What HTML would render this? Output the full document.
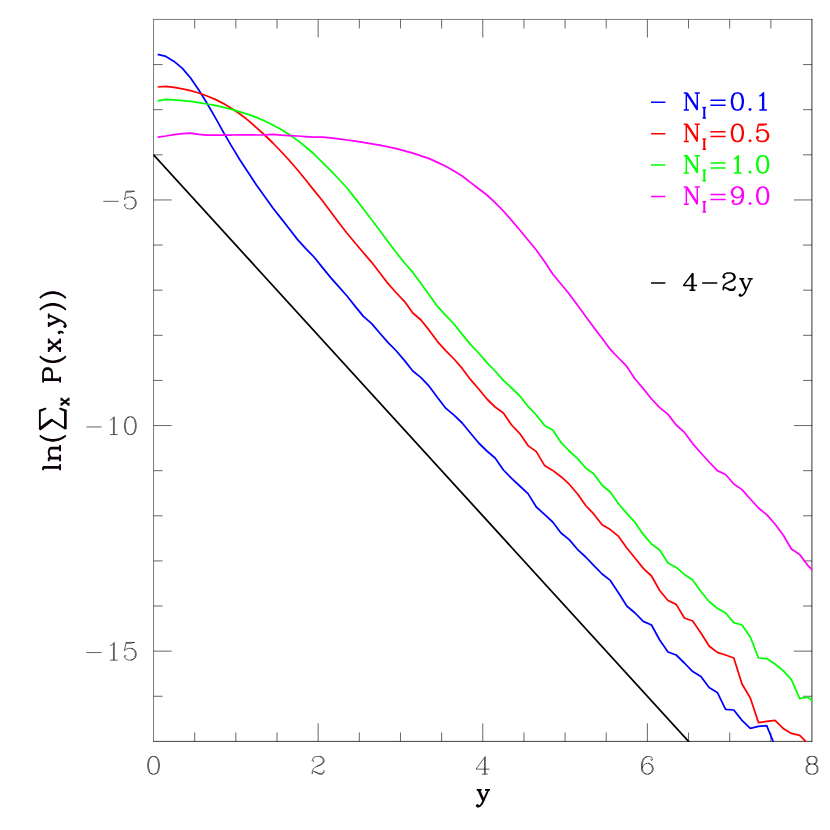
<!DOCTYPE html>
<html><head><meta charset="utf-8"><title>plot</title><style>html,body{margin:0;padding:0;background:#fff;font-family:"Liberation Sans",sans-serif}svg{display:block}</style></head><body>
<svg width="830" height="830" viewBox="0 0 830 830">
<rect width="830" height="830" fill="#fff"/>
<defs><clipPath id="c"><rect x="153.25" y="19.15" width="659.15" height="722.65"/></clipPath></defs>
<path d="M153.55 19.20V741.80 M153.30 19.45H812.40" fill="none" stroke="#000" stroke-width="0.52"/>
<path d="M811.92 19.20V741.75" fill="none" stroke="#000" stroke-width="0.8"/>
<path d="M153.30 741.40H812.35" fill="none" stroke="#000" stroke-width="0.74"/>
<path d="M194.70 19.45v9.00 M194.70 741.40v-9.00 M235.86 19.45v9.00 M235.86 741.40v-9.00 M277.01 19.45v9.00 M277.01 741.40v-9.00 M318.16 19.45v18.10 M318.16 741.40v-18.10 M359.32 19.45v9.00 M359.32 741.40v-9.00 M400.47 19.45v9.00 M400.47 741.40v-9.00 M441.62 19.45v9.00 M441.62 741.40v-9.00 M482.78 19.45v18.10 M482.78 741.40v-18.10 M523.93 19.45v9.00 M523.93 741.40v-9.00 M565.08 19.45v9.00 M565.08 741.40v-9.00 M606.23 19.45v9.00 M606.23 741.40v-9.00 M647.39 19.45v18.10 M647.39 741.40v-18.10 M688.54 19.45v9.00 M688.54 741.40v-9.00 M729.69 19.45v9.00 M729.69 741.40v-9.00 M770.85 19.45v9.00 M770.85 741.40v-9.00 M153.55 64.57h9.00 M812.00 64.57h-9.00 M153.55 109.69h9.00 M812.00 109.69h-9.00 M153.55 154.82h9.00 M812.00 154.82h-9.00 M153.55 199.94h18.10 M812.00 199.94h-18.10 M153.55 245.06h9.00 M812.00 245.06h-9.00 M153.55 290.18h9.00 M812.00 290.18h-9.00 M153.55 335.30h9.00 M812.00 335.30h-9.00 M153.55 380.42h9.00 M812.00 380.42h-9.00 M153.55 425.55h18.10 M812.00 425.55h-18.10 M153.55 470.67h9.00 M812.00 470.67h-9.00 M153.55 515.79h9.00 M812.00 515.79h-9.00 M153.55 560.91h9.00 M812.00 560.91h-9.00 M153.55 606.03h9.00 M812.00 606.03h-9.00 M153.55 651.16h18.10 M812.00 651.16h-18.10 M153.55 696.28h9.00 M812.00 696.28h-9.00" fill="none" stroke="#000" stroke-width="0.60"/>
<line clip-path="url(#c)" x1="153.55" y1="154.82" x2="696.77" y2="750.42" stroke="#000" stroke-width="1.75"/>
<polyline clip-path="url(#c)" points="157.7,54.4 165.9,56.4 174.1,61.4 182.4,68.4 190.6,78.0 198.8,90.0 207.0,103.2 215.3,117.6 223.5,132.4 231.7,146.4 240.0,160.0 248.2,172.4 256.4,185.0 264.7,196.5 272.9,208.0 281.1,218.4 289.4,229.0 297.6,239.6 305.8,248.6 314.0,257.0 322.3,267.4 330.5,277.4 338.7,286.6 347.0,296.0 355.2,306.4 363.4,316.4 371.7,323.6 379.9,333.3 388.1,342.7 396.4,351.0 404.6,360.6 412.8,371.0 421.0,377.6 429.3,386.4 437.5,397.4 445.7,408.2 454.0,415.1 462.2,423.0 470.4,433.0 478.7,443.0 486.9,451.0 495.1,458.0 503.4,470.0 511.6,478.4 519.8,486.0 528.0,493.6 536.3,507.0 544.5,514.4 552.7,522.0 561.0,533.0 569.2,539.6 577.4,549.3 585.7,557.0 593.9,565.6 602.1,574.0 610.3,580.4 618.6,593.0 626.8,606.0 635.0,613.0 643.3,621.4 651.5,625.0 659.7,640.0 668.0,652.0 676.2,655.0 684.4,663.0 692.7,671.6 700.9,676.6 709.1,687.6 717.3,692.4 725.6,709.4 733.8,710.0 742.0,720.4 750.3,728.4 758.5,726.4 766.7,725.6 775.0,746.0" fill="none" stroke="#0000ff" stroke-width="1.75" stroke-linejoin="round" stroke-linecap="butt"/>
<polyline clip-path="url(#c)" points="157.7,87.0 165.9,86.4 174.1,87.4 182.4,88.8 190.6,90.6 198.8,93.0 207.0,96.0 215.3,99.4 223.5,103.6 231.7,108.4 240.0,114.0 248.2,120.4 256.4,127.6 264.7,135.0 272.9,143.0 281.1,151.5 289.4,160.5 297.6,170.0 305.8,180.0 314.0,190.4 322.3,200.5 330.5,211.5 338.7,222.5 347.0,233.3 355.2,243.0 363.4,252.8 371.7,262.3 379.9,273.0 388.1,283.7 396.4,293.0 404.6,301.6 412.8,313.0 421.0,320.0 429.3,330.4 437.5,341.6 445.7,350.6 454.0,359.0 462.2,368.4 470.4,379.4 478.7,389.0 486.9,399.0 495.1,407.0 503.4,413.0 511.6,425.0 519.8,433.6 528.0,445.6 536.3,451.6 544.5,465.4 552.7,470.4 561.0,476.7 569.2,484.2 577.4,493.8 585.7,505.5 593.9,514.2 602.1,524.7 610.3,529.6 618.6,536.4 626.8,548.0 635.0,558.0 643.3,568.4 651.5,576.0 659.7,590.5 668.0,600.5 676.2,604.4 684.4,618.0 692.7,621.0 700.9,633.0 709.1,646.0 717.3,652.4 725.6,655.0 733.8,658.0 742.0,684.0 750.3,698.0 758.5,722.6 766.7,721.4 775.0,720.4 783.2,728.4 791.4,733.4 799.7,735.4 807.9,743.5" fill="none" stroke="#ff0000" stroke-width="1.75" stroke-linejoin="round" stroke-linecap="butt"/>
<polyline clip-path="url(#c)" points="157.7,100.8 165.9,99.4 174.1,99.8 182.4,100.6 190.6,101.4 198.8,102.6 207.0,104.0 215.3,105.4 223.5,107.4 231.7,109.4 240.0,111.8 248.2,114.4 256.4,117.4 264.7,121.0 272.9,125.0 281.1,129.6 289.4,134.6 297.6,140.4 305.8,147.0 314.0,154.0 322.3,162.4 330.5,170.4 338.7,179.0 347.0,188.0 355.2,198.4 363.4,209.0 371.7,219.8 379.9,230.8 388.1,241.8 396.4,252.8 404.6,263.0 412.8,272.4 421.0,283.6 429.3,295.0 437.5,306.4 445.7,315.4 454.0,324.0 462.2,334.4 470.4,344.4 478.7,353.0 486.9,362.6 495.1,371.0 503.4,380.4 511.6,388.0 519.8,396.0 528.0,406.3 536.3,415.0 544.5,425.4 552.7,430.0 561.0,442.4 569.2,451.0 577.4,458.4 585.7,468.0 593.9,474.0 602.1,485.3 610.3,492.0 618.6,504.0 626.8,513.4 635.0,522.4 643.3,534.4 651.5,544.0 659.7,550.0 668.0,563.0 676.2,567.4 684.4,574.4 692.7,580.0 700.9,591.5 709.1,601.5 717.3,608.2 725.6,613.0 733.8,622.6 742.0,625.0 750.3,637.0 758.5,658.0 766.7,658.6 775.0,664.0 783.2,670.6 791.4,679.6 799.7,698.6 807.9,697.0 816.1,704.5" fill="none" stroke="#00ff00" stroke-width="1.75" stroke-linejoin="round" stroke-linecap="butt"/>
<polyline clip-path="url(#c)" points="157.7,137.2 165.9,136.0 174.1,134.6 182.4,133.6 190.6,133.2 198.8,134.4 207.0,135.2 215.3,135.2 223.5,135.0 231.7,135.0 240.0,134.8 248.2,134.8 256.4,135.0 264.7,134.8 272.9,134.4 281.1,135.2 289.4,135.6 297.6,136.0 305.8,136.6 314.0,137.2 322.3,137.2 330.5,137.8 338.7,138.8 347.0,140.0 355.2,141.2 363.4,142.4 371.7,143.8 379.9,145.2 388.1,146.8 396.4,148.6 404.6,150.8 412.8,153.2 421.0,155.8 429.3,158.6 437.5,162.4 445.7,166.2 454.0,171.0 462.2,176.0 470.4,182.4 478.7,188.8 486.9,195.0 495.1,202.6 503.4,211.0 511.6,220.4 519.8,230.0 528.0,240.0 536.3,250.0 544.5,261.6 552.7,274.0 561.0,284.0 569.2,294.0 577.4,305.0 585.7,316.4 593.9,327.6 602.1,338.2 610.3,349.4 618.6,358.0 626.8,366.4 635.0,379.0 643.3,388.6 651.5,399.0 659.7,407.6 668.0,414.4 676.2,425.0 684.4,432.4 692.7,443.6 700.9,453.0 709.1,462.0 717.3,470.6 725.6,474.5 733.8,484.0 742.0,489.6 750.3,499.0 758.5,508.0 766.7,514.6 775.0,524.0 783.2,535.0 791.4,549.0 799.7,554.4 807.9,565.6 816.1,573.5" fill="none" stroke="#ff00ff" stroke-width="1.75" stroke-linejoin="round" stroke-linecap="butt"/>
<path d="M152.71 756.46L150.17 757.30L148.48 759.84L147.64 764.06L147.64 766.60L148.48 770.82L150.17 773.36L152.71 774.20L154.40 774.20L156.93 773.36L158.62 770.82L159.47 766.60L159.47 764.06L158.62 759.84L156.93 757.30L154.40 756.46L152.71 756.46M152.71 756.46L151.02 757.30L150.17 758.15L149.33 759.84L148.48 764.06L148.48 766.60L149.33 770.82L150.17 772.51L151.02 773.36L152.71 774.20M154.40 774.20L156.09 773.36L156.93 772.51L157.78 770.82L158.62 766.60L158.62 764.06L157.78 759.84L156.93 758.15L156.09 757.30L154.40 756.46M313.09 759.84L313.94 760.68L313.09 761.53L312.25 760.68L312.25 759.84L313.09 758.15L313.94 757.30L316.47 756.46L319.85 756.46L322.39 757.30L323.23 758.15L324.08 759.84L324.08 761.53L323.23 763.22L320.70 764.91L316.47 766.60L314.78 767.44L313.09 769.13L312.25 771.67L312.25 774.20M319.85 756.46L321.54 757.30L322.39 758.15L323.23 759.84L323.23 761.53L322.39 763.22L319.85 764.91L316.47 766.60M312.25 772.51L313.09 771.67L314.78 771.67L319.01 773.36L321.54 773.36L323.23 772.51L324.08 771.67M314.78 771.67L319.01 774.20L322.39 774.20L323.23 773.36L324.08 771.67L324.08 769.98M484.47 758.15L484.47 774.20M485.31 756.46L485.31 774.20M485.31 756.46L476.02 769.13L489.54 769.13M481.93 774.20L487.85 774.20M651.61 758.99L650.77 759.84L651.61 760.68L652.46 759.84L652.46 758.99L651.61 757.30L649.92 756.46L647.39 756.46L644.85 757.30L643.16 758.99L642.32 760.68L641.47 764.06L641.47 769.13L642.32 771.67L644.01 773.36L646.54 774.20L648.23 774.20L650.77 773.36L652.46 771.67L653.30 769.13L653.30 768.29L652.46 765.75L650.77 764.06L648.23 763.22L647.39 763.22L644.85 764.06L643.16 765.75L642.32 768.29M647.39 756.46L645.70 757.30L644.01 758.99L643.16 760.68L642.32 764.06L642.32 769.13L643.16 771.67L644.85 773.36L646.54 774.20M648.23 774.20L649.92 773.36L651.61 771.67L652.46 769.13L652.46 768.29L651.61 765.75L649.92 764.06L648.23 763.22M810.31 756.46L807.77 757.30L806.93 758.99L806.93 761.53L807.77 763.22L810.31 764.06L813.69 764.06L816.23 763.22L817.07 761.53L817.07 758.99L816.23 757.30L813.69 756.46L810.31 756.46M810.31 756.46L808.62 757.30L807.77 758.99L807.77 761.53L808.62 763.22L810.31 764.06M813.69 764.06L815.38 763.22L816.23 761.53L816.23 758.99L815.38 757.30L813.69 756.46M810.31 764.06L807.77 764.91L806.93 765.75L806.09 767.44L806.09 770.82L806.93 772.51L807.77 773.36L810.31 774.20L813.69 774.20L816.23 773.36L817.07 772.51L817.91 770.82L817.91 767.44L817.07 765.75L816.23 764.91L813.69 764.06M810.31 764.06L808.62 764.91L807.77 765.75L806.93 767.44L806.93 770.82L807.77 772.51L808.62 773.36L810.31 774.20M813.69 774.20L815.38 773.36L816.23 772.51L817.07 770.82L817.07 767.44L816.23 765.75L815.38 764.91L813.69 764.06M103.31 201.33L118.52 201.33M126.12 191.19L124.43 199.64M124.43 199.64L126.12 197.95L128.66 197.11L131.19 197.11L133.73 197.95L135.42 199.64L136.26 202.18L136.26 203.87L135.42 206.40L133.73 208.09L131.19 208.94L128.66 208.94L126.12 208.09L125.28 207.25L124.43 205.56L124.43 204.71L125.28 203.87L126.12 204.71L125.28 205.56M131.19 197.11L132.88 197.95L134.57 199.64L135.42 202.18L135.42 203.87L134.57 206.40L132.88 208.09L131.19 208.94M126.12 191.19L134.57 191.19M126.12 192.04L130.35 192.04L134.57 191.19M86.41 426.94L101.62 426.94M110.07 420.18L111.76 419.34L114.30 416.80L114.30 434.55M113.45 417.65L113.45 434.55M110.07 434.55L117.68 434.55M129.50 416.80L126.97 417.65L125.28 420.18L124.43 424.41L124.43 426.94L125.28 431.17L126.97 433.70L129.50 434.55L131.19 434.55L133.73 433.70L135.42 431.17L136.26 426.94L136.26 424.41L135.42 420.18L133.73 417.65L131.19 416.80L129.50 416.80M129.50 416.80L127.81 417.65L126.97 418.49L126.12 420.18L125.28 424.41L125.28 426.94L126.12 431.17L126.97 432.86L127.81 433.70L129.50 434.55M131.19 434.55L132.88 433.70L133.73 432.86L134.57 431.17L135.42 426.94L135.42 424.41L134.57 420.18L133.73 418.49L132.88 417.65L131.19 416.80M86.41 652.55L101.62 652.55M110.07 645.79L111.76 644.95L114.30 642.41L114.30 660.16M113.45 643.26L113.45 660.16M110.07 660.16L117.68 660.16M126.12 642.41L124.43 650.86M124.43 650.86L126.12 649.17L128.66 648.33L131.19 648.33L133.73 649.17L135.42 650.86L136.26 653.40L136.26 655.09L135.42 657.62L133.73 659.31L131.19 660.16L128.66 660.16L126.12 659.31L125.28 658.47L124.43 656.78L124.43 655.93L125.28 655.09L126.12 655.93L125.28 656.78M131.19 648.33L132.88 649.17L134.57 650.86L135.42 653.40L135.42 655.09L134.57 657.62L132.88 659.31L131.19 660.16M126.12 642.41L134.57 642.41M126.12 643.26L130.35 643.26L134.57 642.41" fill="none" stroke="#000" stroke-width="0.62" stroke-linecap="butt" stroke-linejoin="round"/>
<path d="M686.32 92.88L686.32 110.10M687.16 92.88L697.27 108.46M687.16 94.52L697.27 110.10M697.27 92.88L697.27 110.10M683.79 92.88L687.16 92.88M694.75 92.88L699.80 92.88M683.79 110.10L688.84 110.10M704.02 107.56L704.02 117.89M704.52 107.56L704.52 117.89M702.50 107.56L706.04 107.56M702.50 117.89L706.04 117.89M710.42 100.26L725.60 100.26M710.42 105.18L725.60 105.18M736.56 92.88L734.03 93.70L732.34 96.16L731.50 100.26L731.50 102.72L732.34 106.82L734.03 109.28L736.56 110.10L738.24 110.10L740.77 109.28L742.46 106.82L743.30 102.72L743.30 100.26L742.46 96.16L740.77 93.70L738.24 92.88L736.56 92.88M736.56 92.88L734.87 93.70L734.03 94.52L733.19 96.16L732.34 100.26L732.34 102.72L733.19 106.82L734.03 108.46L734.87 109.28L736.56 110.10M738.24 110.10L739.93 109.28L740.77 108.46L741.62 106.82L742.46 102.72L742.46 100.26L741.62 96.16L740.77 94.52L739.93 93.70L738.24 92.88M750.05 108.46L749.20 109.28L750.05 110.10L750.89 109.28L750.05 108.46M759.32 96.16L761.00 95.34L763.53 92.88L763.53 110.10M762.69 93.70L762.69 110.10M759.32 110.10L766.91 110.10M651 102.30H665.4" fill="none" stroke="#0000ff" stroke-width="1.50" stroke-linecap="butt" stroke-linejoin="round"/>
<path d="M686.32 124.28L686.32 141.50M687.16 124.28L697.27 139.86M687.16 125.92L697.27 141.50M697.27 124.28L697.27 141.50M683.79 124.28L687.16 124.28M694.75 124.28L699.80 124.28M683.79 141.50L688.84 141.50M704.02 138.96L704.02 149.29M704.52 138.96L704.52 149.29M702.50 138.96L706.04 138.96M702.50 149.29L706.04 149.29M710.42 131.66L725.60 131.66M710.42 136.58L725.60 136.58M736.56 124.28L734.03 125.10L732.34 127.56L731.50 131.66L731.50 134.12L732.34 138.22L734.03 140.68L736.56 141.50L738.24 141.50L740.77 140.68L742.46 138.22L743.30 134.12L743.30 131.66L742.46 127.56L740.77 125.10L738.24 124.28L736.56 124.28M736.56 124.28L734.87 125.10L734.03 125.92L733.19 127.56L732.34 131.66L732.34 134.12L733.19 138.22L734.03 139.86L734.87 140.68L736.56 141.50M738.24 141.50L739.93 140.68L740.77 139.86L741.62 138.22L742.46 134.12L742.46 131.66L741.62 127.56L740.77 125.92L739.93 125.10L738.24 124.28M750.05 139.86L749.20 140.68L750.05 141.50L750.89 140.68L750.05 139.86M758.48 124.28L756.79 132.48M756.79 132.48L758.48 130.84L761.00 130.02L763.53 130.02L766.06 130.84L767.75 132.48L768.59 134.94L768.59 136.58L767.75 139.04L766.06 140.68L763.53 141.50L761.00 141.50L758.48 140.68L757.63 139.86L756.79 138.22L756.79 137.40L757.63 136.58L758.48 137.40L757.63 138.22M763.53 130.02L765.22 130.84L766.91 132.48L767.75 134.94L767.75 136.58L766.91 139.04L765.22 140.68L763.53 141.50M758.48 124.28L766.91 124.28M758.48 125.10L762.69 125.10L766.91 124.28M651 133.70H665.4" fill="none" stroke="#ff0000" stroke-width="1.50" stroke-linecap="butt" stroke-linejoin="round"/>
<path d="M686.32 155.68L686.32 172.90M687.16 155.68L697.27 171.26M687.16 157.32L697.27 172.90M697.27 155.68L697.27 172.90M683.79 155.68L687.16 155.68M694.75 155.68L699.80 155.68M683.79 172.90L688.84 172.90M704.02 170.36L704.02 180.69M704.52 170.36L704.52 180.69M702.50 170.36L706.04 170.36M702.50 180.69L706.04 180.69M710.42 163.06L725.60 163.06M710.42 167.98L725.60 167.98M734.03 158.96L735.71 158.14L738.24 155.68L738.24 172.90M737.40 156.50L737.40 172.90M734.03 172.90L741.62 172.90M750.05 171.26L749.20 172.08L750.05 172.90L750.89 172.08L750.05 171.26M761.85 155.68L759.32 156.50L757.63 158.96L756.79 163.06L756.79 165.52L757.63 169.62L759.32 172.08L761.85 172.90L763.53 172.90L766.06 172.08L767.75 169.62L768.59 165.52L768.59 163.06L767.75 158.96L766.06 156.50L763.53 155.68L761.85 155.68M761.85 155.68L760.16 156.50L759.32 157.32L758.48 158.96L757.63 163.06L757.63 165.52L758.48 169.62L759.32 171.26L760.16 172.08L761.85 172.90M763.53 172.90L765.22 172.08L766.06 171.26L766.91 169.62L767.75 165.52L767.75 163.06L766.91 158.96L766.06 157.32L765.22 156.50L763.53 155.68M651 165.10H665.4" fill="none" stroke="#00ff00" stroke-width="1.50" stroke-linecap="butt" stroke-linejoin="round"/>
<path d="M686.32 187.08L686.32 204.30M687.16 187.08L697.27 202.66M687.16 188.72L697.27 204.30M697.27 187.08L697.27 204.30M683.79 187.08L687.16 187.08M694.75 187.08L699.80 187.08M683.79 204.30L688.84 204.30M704.02 201.76L704.02 212.09M704.52 201.76L704.52 212.09M702.50 201.76L706.04 201.76M702.50 212.09L706.04 212.09M710.42 194.46L725.60 194.46M710.42 199.38L725.60 199.38M742.46 192.82L741.62 195.28L739.93 196.92L737.40 197.74L736.56 197.74L734.03 196.92L732.34 195.28L731.50 192.82L731.50 192.00L732.34 189.54L734.03 187.90L736.56 187.08L738.24 187.08L740.77 187.90L742.46 189.54L743.30 192.00L743.30 196.92L742.46 200.20L741.62 201.84L739.93 203.48L737.40 204.30L734.87 204.30L733.19 203.48L732.34 201.84L732.34 201.02L733.19 200.20L734.03 201.02L733.19 201.84M736.56 197.74L734.87 196.92L733.19 195.28L732.34 192.82L732.34 192.00L733.19 189.54L734.87 187.90L736.56 187.08M738.24 187.08L739.93 187.90L741.62 189.54L742.46 192.00L742.46 196.92L741.62 200.20L740.77 201.84L739.09 203.48L737.40 204.30M750.05 202.66L749.20 203.48L750.05 204.30L750.89 203.48L750.05 202.66M761.85 187.08L759.32 187.90L757.63 190.36L756.79 194.46L756.79 196.92L757.63 201.02L759.32 203.48L761.85 204.30L763.53 204.30L766.06 203.48L767.75 201.02L768.59 196.92L768.59 194.46L767.75 190.36L766.06 187.90L763.53 187.08L761.85 187.08M761.85 187.08L760.16 187.90L759.32 188.72L758.48 190.36L757.63 194.46L757.63 196.92L758.48 201.02L759.32 202.66L760.16 203.48L761.85 204.30M763.53 204.30L765.22 203.48L766.06 202.66L766.91 201.02L767.75 196.92L767.75 194.46L766.91 190.36L766.06 188.72L765.22 187.90L763.53 187.08M651 196.50H665.4" fill="none" stroke="#ff00ff" stroke-width="1.50" stroke-linecap="butt" stroke-linejoin="round"/>
<path d="M692.02 274.72L692.02 290.30M692.86 273.08L692.86 290.30M692.86 273.08L683.59 285.38L697.07 285.38M689.49 290.30L695.39 290.30M702.13 282.92L717.31 282.92M724.05 276.36L724.89 277.18L724.05 278.00L723.21 277.18L723.21 276.36L724.05 274.72L724.89 273.90L727.42 273.08L730.79 273.08L733.32 273.90L734.17 274.72L735.01 276.36L735.01 278.00L734.17 279.64L731.64 281.28L727.42 282.92L725.74 283.74L724.05 285.38L723.21 287.84L723.21 290.30M730.79 273.08L732.48 273.90L733.32 274.72L734.17 276.36L734.17 278.00L733.32 279.64L730.79 281.28L727.42 282.92M723.21 288.66L724.05 287.84L725.74 287.84L729.95 289.48L732.48 289.48L734.17 288.66L735.01 287.84M725.74 287.84L729.95 290.30L733.32 290.30L734.17 289.48L735.01 287.84L735.01 286.20M740.91 278.82L745.97 290.30M741.75 278.82L745.97 288.66M751.03 278.82L745.97 290.30L744.28 293.58L742.60 295.22L740.91 296.04L740.07 296.04L739.22 295.22L740.07 294.40L740.91 295.22M739.22 278.82L744.28 278.82M747.65 278.82L752.71 278.82M651 283.00H665.4" fill="none" stroke="#000" stroke-width="1.50" stroke-linecap="butt" stroke-linejoin="round"/>
<path d="M478.33 789.80L483.31 801.00M479.17 789.80L483.31 799.40M488.30 789.80L483.31 801.00L481.65 804.20L480.00 805.80L478.33 806.60L477.50 806.60L476.68 805.80L477.50 805.00L478.33 805.80M476.68 789.80L481.65 789.80M484.98 789.80L489.95 789.80" fill="none" stroke="#0a000a" stroke-width="1.85" stroke-linecap="butt" stroke-linejoin="round"/>
<path d="M43.09 467.70L60.10 467.70M43.09 466.85L60.10 466.85M43.09 470.25L43.09 466.85M60.10 470.25L60.10 464.30M48.76 458.46L60.10 458.46M48.76 457.55L60.10 457.55M51.19 457.55L49.57 455.75L48.76 453.05L48.76 451.25L49.57 448.54L51.19 447.64L60.10 447.64M48.76 451.25L49.57 449.45L51.19 448.54L60.10 448.54M48.76 461.16L48.76 457.55M60.10 461.16L60.10 454.85M60.10 451.25L60.10 444.94M39.85 435.34L41.47 436.87L43.90 438.40L47.14 439.93L51.19 440.70L54.43 440.70L58.48 439.93L61.72 438.40L64.15 436.87L65.77 435.34M41.47 436.87L44.71 438.40L47.14 439.17L51.19 439.93L54.43 439.93L58.48 439.17L60.91 438.40L64.15 436.87M39.85 428.15L51.19 419.65L65.77 429.00M39.85 429.00L51.19 420.50M39.85 429.85L52.00 420.50M39.85 429.85L39.85 410.30L45.52 408.60L39.85 411.15M64.96 428.15L64.96 410.30M65.77 429.00L65.77 410.30L60.10 408.60L65.77 411.15M61.46 404.68L68.61 399.20M61.46 404.19L68.61 398.71M61.46 398.71L68.61 404.68M61.46 405.68L61.46 402.69M61.46 400.70L61.46 397.71M68.61 405.68L68.61 402.69M68.61 400.70L68.61 397.71M43.09 380.04L60.10 380.04M43.09 379.19L60.10 379.19M43.09 382.59L43.09 372.39L43.90 369.84L44.71 368.99L46.33 368.14L48.76 368.14L50.38 368.99L51.19 369.84L52.00 372.39L52.00 379.19M43.09 372.39L43.90 370.69L44.71 369.84L46.33 368.99L48.76 368.99L50.38 369.84L51.19 370.69L52.00 372.39M60.10 382.59L60.10 376.64M39.85 356.24L41.47 357.94L43.90 359.64L47.14 361.34L51.19 362.19L54.43 362.19L58.48 361.34L61.72 359.64L64.15 357.94L65.77 356.24M41.47 357.94L44.71 359.64L47.14 360.49L51.19 361.34L54.43 361.34L58.48 360.49L60.91 359.64L64.15 357.94M48.76 350.29L60.10 340.94M48.76 349.44L60.10 340.09M48.76 340.09L60.10 350.29M48.76 351.99L48.76 346.89M48.76 343.49L48.76 338.39M60.10 351.99L60.10 346.89M60.10 343.49L60.10 338.39M60.10 332.44L59.29 333.29L58.48 332.44L59.29 331.59L60.91 331.59L62.53 332.44L63.34 333.29M48.76 325.39L60.10 320.29M48.76 324.54L58.48 320.29M48.76 315.19L60.10 320.29L63.34 321.99L64.96 323.69L65.77 325.39L65.77 326.24L64.96 327.09L64.15 326.24L64.96 325.39M48.76 327.09L48.76 321.99M48.76 318.59L48.76 313.49M39.85 309.89L41.47 308.19L43.90 306.49L47.14 304.79L51.19 303.94L54.43 303.94L58.48 304.79L61.72 306.49L64.15 308.19L65.77 309.89M41.47 308.19L44.71 306.49L47.14 305.64L51.19 304.79L54.43 304.79L58.48 305.64L60.91 306.49L64.15 308.19M39.85 298.19L41.47 296.49L43.90 294.79L47.14 293.09L51.19 292.24L54.43 292.24L58.48 293.09L61.72 294.79L64.15 296.49L65.77 298.19M41.47 296.49L44.71 294.79L47.14 293.94L51.19 293.09L54.43 293.09L58.48 293.94L60.91 294.79L64.15 296.49" fill="none" stroke="#0a000a" stroke-width="1.85" stroke-linecap="butt" stroke-linejoin="round"/>
</svg>
</body></html>
